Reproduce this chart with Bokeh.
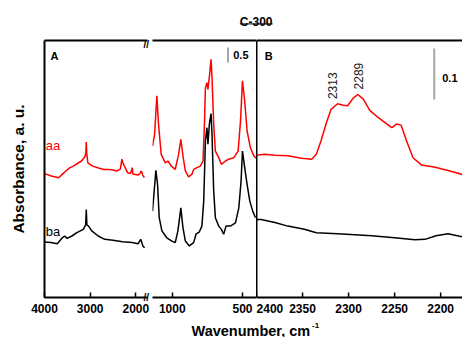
import numpy as np
from bokeh.plotting import figure
from bokeh.models import Range1d, LinearAxis, FixedTicker, Label
from bokeh.layouts import row, column
from bokeh.embed import file_html
from bokeh.resources import INLINE

# ---------------- data ----------------
# Panel A, high-wavenumber part (4000-1744 cm-1)
wn_a_hi_aa = [4000, 3850, 3690, 3600, 3550, 3450, 3370, 3190, 3120, 3095, 3085, 3075, 3050,
              2945, 2800, 2700, 2590, 2500, 2410, 2340, 2320, 2306, 2285, 2250, 2180, 2120,
              2090, 2078, 2065, 1950, 1900, 1880, 1850, 1812]
abs_a_hi_aa = [4.13, 4.05, 3.99, 4.12, 4.19, 4.32, 4.38, 4.55, 4.68, 4.80, 5.18, 4.80, 4.49,
               4.38, 4.31, 4.27, 4.27, 4.25, 4.22, 4.28, 4.45, 4.61, 4.50, 4.38, 4.16, 4.13,
               4.25, 4.33, 4.12, 4.08, 4.15, 4.22, 4.08, 4.00]
wn_a_hi_ba = [4000, 3860, 3720, 3610, 3560, 3505, 3400, 3290, 3150, 3098, 3085, 3072, 3036,
              2965, 2823, 2680, 2500, 2290, 2080, 1951, 1893, 1844, 1808]
abs_a_hi_ba = [1.85, 1.83, 1.79, 1.99, 2.05, 1.97, 2.05, 2.16, 2.27, 2.42, 2.93, 2.42, 2.38,
               2.22, 2.05, 1.94, 1.91, 1.86, 1.83, 1.79, 1.94, 1.72, 1.66]

# Panel A, low-wavenumber part (1141-400 cm-1)
wn_a_lo_aa = [1141, 1126, 1110, 1098, 1079, 1050, 1031, 1007, 979, 955, 939, 924, 907, 884,
              860, 848, 824, 800, 781, 771, 764, 753, 746, 734, 724, 717, 705, 693, 669, 650,
              621, 598, 562, 531, 514, 500, 484, 467, 443, 419, 403]
abs_a_lo_aa = [5.05, 5.44, 6.72, 5.77, 4.77, 4.49, 4.55, 4.38, 4.27, 4.77, 5.27, 4.72, 4.22,
               4.02, 4.11, 4.27, 4.33, 4.38, 4.55, 5.77, 6.99, 7.16, 6.94, 7.44, 7.94, 7.33,
               5.77, 4.88, 4.66, 4.44, 4.55, 4.61, 4.66, 4.88, 5.88, 7.22, 6.55, 5.55, 4.99,
               4.72, 4.64]
wn_a_lo_ba = [1141, 1129, 1117, 1105, 1093, 1074, 1039, 1003, 979, 960, 939, 924, 907, 879,
              848, 831, 807, 789, 776, 764, 753, 746, 736, 724, 717, 705, 693, 669, 650, 634,
              617, 586, 550, 526, 510, 500, 484, 467, 448, 427, 407]
abs_a_lo_ba = [2.88, 3.55, 4.24, 3.77, 2.66, 2.22, 1.99, 1.88, 1.83, 2.22, 2.99, 2.33, 1.88,
               1.72, 1.83, 2.11, 2.19, 2.38, 3.22, 5.22, 5.66, 5.11, 5.77, 6.13, 5.44, 3.55,
               2.66, 2.38, 2.27, 2.11, 2.38, 2.38, 2.49, 2.99, 3.88, 4.88, 4.33, 3.77, 3.22,
               2.88, 2.66]

# Panel B (2400-2176 cm-1)
wn_b_aa = [2400, 2391, 2380, 2366, 2351, 2340, 2335, 2330, 2324, 2319, 2312, 2306, 2301, 2295,
           2290, 2284, 2277, 2268, 2259, 2253, 2248, 2243, 2237, 2230, 2221, 2207, 2192, 2176]
abs_b_aa = [0.279, 0.281, 0.279, 0.278, 0.273, 0.271, 0.281, 0.307, 0.343, 0.369, 0.380,
            0.377, 0.376, 0.391, 0.398, 0.389, 0.367, 0.353, 0.341, 0.333, 0.340, 0.338,
            0.307, 0.274, 0.260, 0.256, 0.249, 0.241]
wn_b_ba = [2400, 2395, 2380, 2366, 2348, 2335, 2312, 2293, 2275, 2250, 2228, 2217, 2205, 2192, 2176]
abs_b_ba = [0.153, 0.153, 0.147, 0.140, 0.134, 0.127, 0.125, 0.123, 0.121, 0.117, 0.113,
            0.114, 0.121, 0.125, 0.119]

ticks_a_hi = [4000, 3000, 2000]
ticks_a_lo = [1000, 500]
ticks_b = [2400, 2350, 2300, 2250, 2200]
peak_labels = ["2313", "2289"]
peak_label_x = [2318, 2288.7]
peak_label_y = [0.389, 0.408]

# ---------------- styling ----------------
FONT = "Liberation Sans"
RED = "#ff0000"
BLACK = "#000000"
GRAY = "#a6a6a6"
TOP_H = 38
TOP_B, FRAME_H, BOT_B = 2, 257, 20
FIG_H = TOP_B + FRAME_H + BOT_B
A_Y = Range1d(0, 257 / 30)      # 0.5 a.u. = 15 px
B_Y = Range1d(0, 257 / 510)     # 0.1 a.u. = 51 px
LW = 1.5
B_W = 206
B_X = Range1d(2400, 2176.3)


def make_fig(width, x_range, y_range, left=0, right=0):
    p = figure(width=width, height=FIG_H, x_range=x_range, y_range=y_range,
               x_axis_location=None, y_axis_location=None,
               output_backend="svg", toolbar_location=None,
               min_border_left=left, min_border_right=right,
               min_border_top=TOP_B, min_border_bottom=BOT_B)
    p.outline_line_color = None
    p.xgrid.visible = False
    p.ygrid.visible = False
    return p


def add_axis(p, place, ticks=(), overrides=None, tick_in=5, line=True, standoff=6,
             font_size="12px"):
    ax = LinearAxis(ticker=FixedTicker(ticks=list(ticks)),
                    axis_line_color=BLACK if line else None, axis_line_width=2,
                    major_tick_line_color=BLACK, major_tick_line_width=1.5,
                    major_tick_in=tick_in if ticks else 0, major_tick_out=0,
                    minor_tick_line_color=None,
                    major_label_standoff=standoff if ticks else 0,
                    major_label_text_font=FONT, major_label_text_font_size=font_size,
                    major_label_text_font_style="bold", major_label_text_color=BLACK)
    if overrides:
        ax.major_label_overrides = overrides
    p.add_layout(ax, place)
    return ax


def txt(p, x, y, text, size="12px", style="normal", color=BLACK, align="left",
        baseline="alphabetic", angle=0):
    p.add_layout(Label(x=x, y=y, text=text, text_font=FONT, text_font_size=size,
                       text_font_style=style, text_color=color, text_align=align,
                       text_baseline=baseline, angle=angle))


# ---- Panel A, left part ----
pa1 = make_fig(152, Range1d(4000, 1744), A_Y, left=44, right=2)
yax = add_axis(pa1, "left")
yax.axis_label = "Absorbance, a. u."
yax.axis_label_text_font = FONT
yax.axis_label_text_font_size = "15.5px"
yax.axis_label_text_font_style = "bold"
yax.axis_label_text_color = BLACK
yax.axis_label_standoff = 18
add_axis(pa1, "above")
add_axis(pa1, "below", ticks_a_hi)
# axis-break marks "//" on the top and bottom frame lines
brk_y = [A_Y.start + 0.001, A_Y.end - 0.001]
add_axis(pa1, "right", brk_y, overrides={v: "//" for v in brk_y}, tick_in=0, line=False,
         standoff=-4, font_size="10px")
pa1.line(wn_a_hi_aa, abs_a_hi_aa, line_color=RED, line_width=LW)
pa1.line(wn_a_hi_ba, abs_a_hi_ba, line_color=BLACK, line_width=LW)
txt(pa1, 3866, 8.05, "A", size="11px", style="bold")
txt(pa1, 3972, 5.07, "aa", size="13px", color=RED)
txt(pa1, 3972, 2.2, "ba", size="13px")

# ---- Panel A, right part ----
pa2 = make_fig(104, Range1d(1141, 400), A_Y)
add_axis(pa2, "above")
add_axis(pa2, "below", ticks_a_lo)
pa2.line(wn_a_lo_aa, abs_a_lo_aa, line_color=RED, line_width=LW)
pa2.line(wn_a_lo_ba, abs_a_lo_ba, line_color=BLACK, line_width=LW)
pa2.segment(x0=[603], y0=[7.83], x1=[603], y1=[8.33], line_color=GRAY, line_width=2)
txt(pa2, 566, 8.08, "0.5", size="11px", style="bold")

# ---- Panel B ----
pb = make_fig(B_W, B_X, B_Y)
add_axis(pb, "left")
add_axis(pb, "above")
# "2400" sits at the divider: its label is drawn starting at the frame edge
half_label = 13.4 * (B_X.start - B_X.end) / B_W
label_pos = [ticks_b[0] - half_label] + ticks_b[1:]
add_axis(pb, "below", label_pos, overrides={label_pos[0]: str(ticks_b[0])}, tick_in=0)
pb.segment(x0=ticks_b, y0=[0] * len(ticks_b), x1=ticks_b, y1=[5 / 510] * len(ticks_b),
           line_color=BLACK, line_width=1.5)
pb.line(wn_b_aa, abs_b_aa, line_color=RED, line_width=LW)
pb.line(wn_b_ba, abs_b_ba, line_color=BLACK, line_width=LW)
pb.segment(x0=[2207], y0=[0.388], x1=[2207], y1=[0.488], line_color=GRAY, line_width=2)
txt(pb, 2198.3, 0.4304, "0.1", size="11px", style="bold")
txt(pb, 2391, 0.4735, "B", size="11px", style="bold")
for t, x, y in zip(peak_labels, peak_label_x, peak_label_y):
    txt(pb, x, y, t, size="12px", color="#222222", baseline="middle", angle=np.pi / 2)


# ---- title and x label strips ----
def strip(height):
    s = figure(width=462, height=height, x_range=Range1d(0, 462), y_range=Range1d(0, height),
               x_axis_location=None, y_axis_location=None,
               output_backend="svg", toolbar_location=None, min_border=0)
    s.outline_line_color = None
    s.xgrid.visible = False
    s.ygrid.visible = False
    return s


top = strip(TOP_H)
txt(top, 255.7, 16.3, "C-300", size="12px", style="bold", align="center")
top.segment(x0=[239.3], y0=[14.7], x1=[272.1], y1=[14.7], line_color="#333333", line_width=1.2)

BOT_H = 337 - TOP_H - FIG_H
bottom = strip(BOT_H)
txt(bottom, 191, 7, "Wavenumber, cm", size="14.5px", style="bold")
txt(bottom, 311.5, 12.5, "-1", size="8px", style="bold")

layout = column(top, row(pa1, pa2, pb), bottom)
open("out.html", "w").write(file_html(layout, INLINE))
